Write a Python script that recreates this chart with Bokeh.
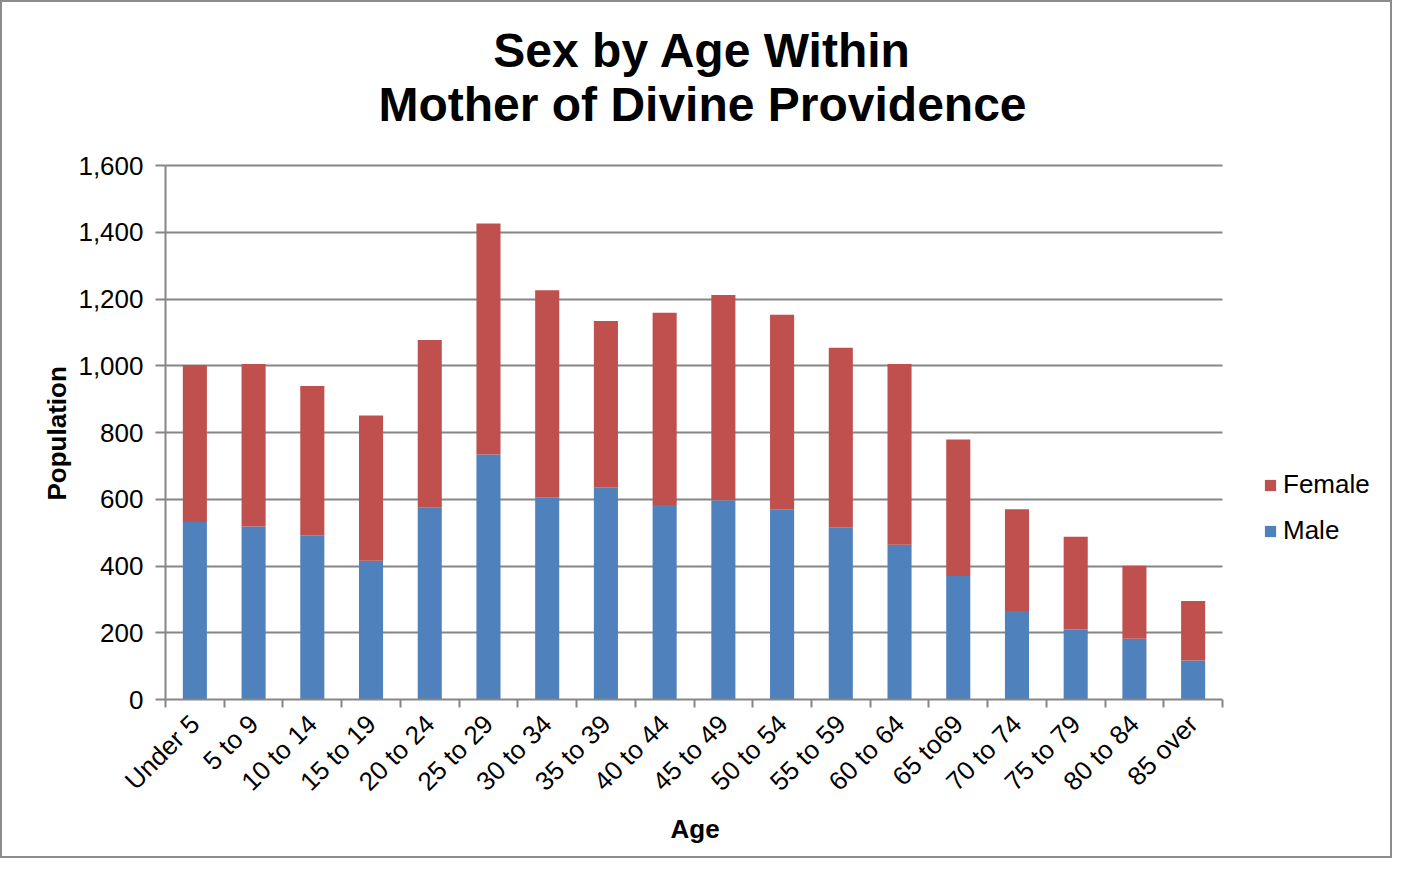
from math import pi
from bokeh.plotting import figure
from bokeh.models import (FixedTicker, NumeralTickFormatter, Legend, LegendItem,
                          ColumnDataSource, Range1d, Title, BoxAnnotation, Label)
from bokeh.embed import file_html
from bokeh.resources import INLINE

ages = ["Under 5", "5 to 9", "10 to 14", "15 to 19", "20 to 24", "25 to 29",
        "30 to 34", "35 to 39", "40 to 44", "45 to 49", "50 to 54", "55 to 59",
        "60 to 64", "65 to69", "70 to 74", "75 to 79", "80 to 84", "85 over"]
male = [532, 518, 492, 416, 576, 734, 606, 636, 583, 597, 570, 516, 464, 370,
        265, 210, 182, 117]
female = [470, 487, 447, 435, 501, 692, 620, 498, 576, 615, 583, 538, 541, 409,
          305, 278, 219, 178]
y_ticks = [0, 200, 400, 600, 800, 1000, 1200, 1400, 1600]
title_lines = ["Sex by Age Within", "Mother of Divine Providence"]

FONT = "Liberation Sans"
GRAY = "#868686"
n = len(ages)
y_max = 1600
positions = list(range(1, n + 1))
totals = [m + f for m, f in zip(male, female)]
src = ColumnDataSource(dict(x=positions, male=male, female=female, total=totals))

# layout constants (pixels)
W, H = 1392, 858
LEFT, BOTTOM = 163, 161
PLOT_W, PLOT_H = 1057, 534      # pixel size of the category / value area
frame_w = W - LEFT
frame_h = H - BOTTOM
x_end = 0.5 + n * frame_w / PLOT_W
y_end = y_max * frame_h / PLOT_H
px_x = PLOT_W / n               # pixels per category
px_y = PLOT_H / y_max           # pixels per unit

p = figure(width=W, height=H, output_backend="svg", toolbar_location=None,
           x_range=Range1d(0.5, x_end), y_range=Range1d(0, y_end),
           min_border_left=LEFT, min_border_right=0, min_border_top=0,
           min_border_bottom=BOTTOM)
p.styles = {"border": "2px solid #8c8c8c"}

rm = p.vbar(x="x", bottom=0, top="male", width=0.41, source=src,
            fill_color="#4F81BD", line_color=None)
rf = p.vbar(x="x", bottom="male", top="total", width=0.41, source=src,
            fill_color="#C0504D", line_color=None)

p.outline_line_color = None
p.background_fill_color = "white"
p.border_fill_color = "white"

# mask to end the gridlines at the last category
mask = BoxAnnotation(left=n + 0.5, fill_color="white", fill_alpha=1.0,
                     line_color=None)
p.add_layout(mask)

# two-line title, centred over the chart
title_cx = 0.5 + (702 - 165) / px_x
for line, base_px in zip(title_lines, [50, 104]):
    p.add_layout(Label(x=title_cx, y=(699 - base_px) / px_y, text=line,
                       text_font=FONT, text_font_size="48px",
                       text_font_style="bold", text_color="black",
                       text_align="center", text_baseline="alphabetic"))

# x axis
p.xaxis.bounds = (0.5, n + 0.5)
p.xaxis.ticker = FixedTicker(ticks=positions,
                             minor_ticks=[i + 0.5 for i in range(0, n + 1)])
p.xaxis.major_label_overrides = {i: a for i, a in zip(positions, ages)}
p.xaxis.major_label_orientation = pi / 4
p.xaxis.major_tick_out = 0
p.xaxis.major_tick_in = 0
p.xaxis.minor_tick_out = 8
p.xaxis.minor_tick_in = 0
p.xaxis.minor_tick_line_color = GRAY
p.xaxis.minor_tick_line_width = 2
p.xaxis.axis_line_color = GRAY
p.xaxis.axis_line_width = 2
p.xaxis.major_label_text_font = FONT
p.xaxis.major_label_text_font_size = "26px"
p.xaxis.major_label_text_color = "black"
p.xaxis.major_label_standoff = 12

age_title = Title(text="Age", text_font=FONT, text_font_size="26px",
                  text_font_style="bold", text_color="black", align="left",
                  offset=505, standoff=2)
p.add_layout(age_title, "below")

# y axis
p.yaxis.bounds = (0, y_max)
p.yaxis.ticker = FixedTicker(ticks=y_ticks)
p.yaxis.formatter = NumeralTickFormatter(format="0,0")
p.yaxis.major_tick_out = 10
p.yaxis.major_tick_in = 0
p.yaxis.minor_tick_line_color = None
p.yaxis.major_tick_line_color = GRAY
p.yaxis.major_tick_line_width = 2
p.yaxis.axis_line_color = GRAY
p.yaxis.axis_line_width = 2
p.yaxis.major_label_text_font = FONT
p.yaxis.major_label_text_font_size = "26px"
p.yaxis.major_label_text_color = "black"
p.yaxis.major_label_standoff = 12

pop_title = Title(text="Population", text_font=FONT, text_font_size="26px",
                  text_font_style="bold", text_color="black", align="left",
                  offset=199, standoff=8)
p.add_layout(pop_title, "left")

p.xgrid.grid_line_color = None
p.ygrid.ticker = FixedTicker(ticks=y_ticks)
p.ygrid.grid_line_color = GRAY
p.ygrid.grid_line_width = 2

legend = Legend(items=[LegendItem(label="Female", renderers=[rf]),
                       LegendItem(label="Male", renderers=[rm])],
                location=(1098, 153))
legend.label_text_font = FONT
legend.label_text_font_size = "26px"
legend.label_text_color = "black"
legend.glyph_width = 14
legend.glyph_height = 14
legend.spacing = 15
legend.label_standoff = 6
legend.border_line_color = None
legend.background_fill_alpha = 0
p.add_layout(legend, "center")

open("out.html", "w").write(file_html(p, INLINE))
